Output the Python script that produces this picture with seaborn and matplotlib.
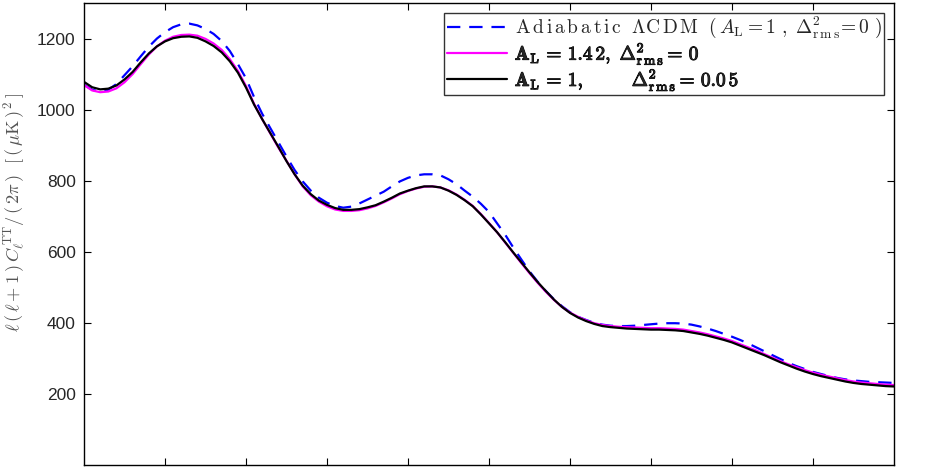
import matplotlib
matplotlib.use("Agg")
import matplotlib.pyplot as plt
import matplotlib.patheffects as pe
import numpy as np
import pandas as pd
import seaborn as sns

# multipole grid (step 10) and the three TT spectra
ell = np.arange(1000, 2001, 10)

cl_adiabatic = [1070, 1056, 1050, 1056, 1072, 1097, 1122, 1150, 1177, 1200,
                1218, 1232, 1240, 1242, 1237, 1227, 1213, 1193, 1165, 1128,
                1088, 1035, 988, 948, 908, 868, 830, 798, 772, 752,
                738, 729, 724, 727, 736, 747, 758, 769, 784, 798,
                808, 815, 818, 818, 815, 804, 790, 772, 755, 735,
                712, 680, 648, 612, 578, 545, 516, 490, 467, 447,
                430, 417, 408, 400, 395, 392, 391, 391, 392, 394,
                396, 398, 399, 399, 398, 395, 390, 384, 377, 369,
                361, 352, 342, 331, 320, 309, 298, 287, 278, 270,
                262, 256, 250, 245, 241, 238, 236, 234, 233, 232, 231]

cl_lens = [1069, 1054, 1049, 1051, 1060, 1077, 1100, 1128, 1155, 1178,
           1194, 1205, 1210, 1211, 1208, 1199, 1186, 1168, 1142, 1109,
           1066, 1016, 973, 933, 893, 856, 818, 784, 759, 741,
           728, 719, 715, 715, 717, 722, 729, 739, 750, 762,
           771, 778, 783, 784, 781, 773, 761, 746, 729, 706,
           681, 655, 626, 597, 568, 540, 513, 488, 465, 445,
           429, 417, 407, 399, 394, 391, 389, 388, 387, 386,
           385, 385, 384, 383, 381, 377, 373, 368, 362, 356,
           349, 340, 331, 322, 312, 302, 292, 283, 275, 267,
           260, 254, 249, 244, 239, 235, 232, 230, 228, 226, 225]

cl_iso = [1078, 1063, 1057, 1059, 1068, 1085, 1106, 1133, 1158, 1178,
          1192, 1201, 1205, 1206, 1202, 1192, 1179, 1161, 1136, 1104,
          1062, 1014, 973, 934, 895, 855, 818, 786, 762, 744,
          732, 723, 718, 718, 720, 725, 731, 741, 752, 764,
          772, 779, 784, 784, 781, 772, 760, 745, 728, 705,
          680, 655, 627, 598, 570, 542, 515, 490, 466, 445,
          428, 415, 405, 397, 391, 388, 386, 384, 383, 382,
          381, 381, 380, 379, 377, 373, 369, 364, 358, 352,
          345, 336, 327, 318, 309, 299, 289, 280, 271, 263,
          256, 250, 245, 240, 235, 231, 228, 226, 224, 222, 221]

labels = [
    r"$\mathrm{A\,d\,i\,a\,b\,a\,t\,i\,c}\ \ \Lambda\mathrm{C\,D\,M}\ \ (\,A_{\rm L}=1\ ,\ \Delta^{2}_{\rm r\,m\,s}\!=0\ )$",
    r"$\mathbf{A}_{\rm L}\mathbf{\,=\,1.4\,2},\ \mathbf{\Delta}^{\mathbf{2}}_{\rm r\,m\,s}\mathbf{=\,0}$",
    r"$\mathbf{A}_{\rm L}\mathbf{\,=\,1},\qquad\ \ \mathbf{\Delta}^{\mathbf{2}}_{\rm r\,m\,s}\mathbf{=\,0.0\,5}$",
]

df = pd.DataFrame({"ell": ell, "adi": cl_adiabatic, "lens": cl_lens, "iso": cl_iso})

sns.set_style("white")
plt.rcParams["font.family"] = ["Liberation Sans", "DejaVu Sans"]
plt.rcParams["mathtext.fontset"] = "cm"

fig, ax = plt.subplots(figsize=(9.4, 4.69), dpi=100)

sns.lineplot(data=df, x="ell", y="adi", ax=ax, color="#0000ff", lw=1.6,
             linestyle=(0, (6, 4)), label=labels[0])
sns.lineplot(data=df, x="ell", y="lens", ax=ax, color="#ff00ff", lw=1.6,
             label=labels[1])
sns.lineplot(data=df, x="ell", y="iso", ax=ax, color="black", lw=1.6,
             label=labels[2])

ax.set_xlim(1000, 2000)
ax.set_ylim(0, 1300)
ax.set_xticks(np.arange(1100, 2000, 100))
ax.set_xticklabels([])
ax.set_yticks([200, 400, 600, 800, 1000, 1200])
ax.tick_params(direction="in", length=5, width=0.8, color="black",
               top=True, right=True, bottom=True, left=True,
               labelsize=12.5, pad=6)
for s in ax.spines.values():
    s.set_color("black")
    s.set_linewidth(1.0)

ax.set_xlabel("")
ax.set_ylabel(r"$\ell\,(\,\ell+1\,)\,C_\ell^{\,\rm TT}/\,(\,2\pi\,)\ \ [\,(\,\mu{\rm K}\,)^{\,2}\,]$",
              fontsize=13.2, color="#555555")
ax.yaxis.set_label_coords(-0.0704, 0.546)

leg = ax.legend(loc="upper right", fontsize=14, handlelength=3.1,
                frameon=True, fancybox=False, borderaxespad=0.5,
                labelspacing=0.0, borderpad=0.12, handletextpad=0.4)
leg.get_frame().set_edgecolor("black")
leg.get_frame().set_linewidth(1.0)
for t in leg.get_texts()[1:]:
    t.set_path_effects([pe.withStroke(linewidth=0.7, foreground="black")])

fig.subplots_adjust(left=0.0894, right=0.951, bottom=0.0085, top=0.9936)
fig.savefig("out.png", dpi=100)
plt.close()
